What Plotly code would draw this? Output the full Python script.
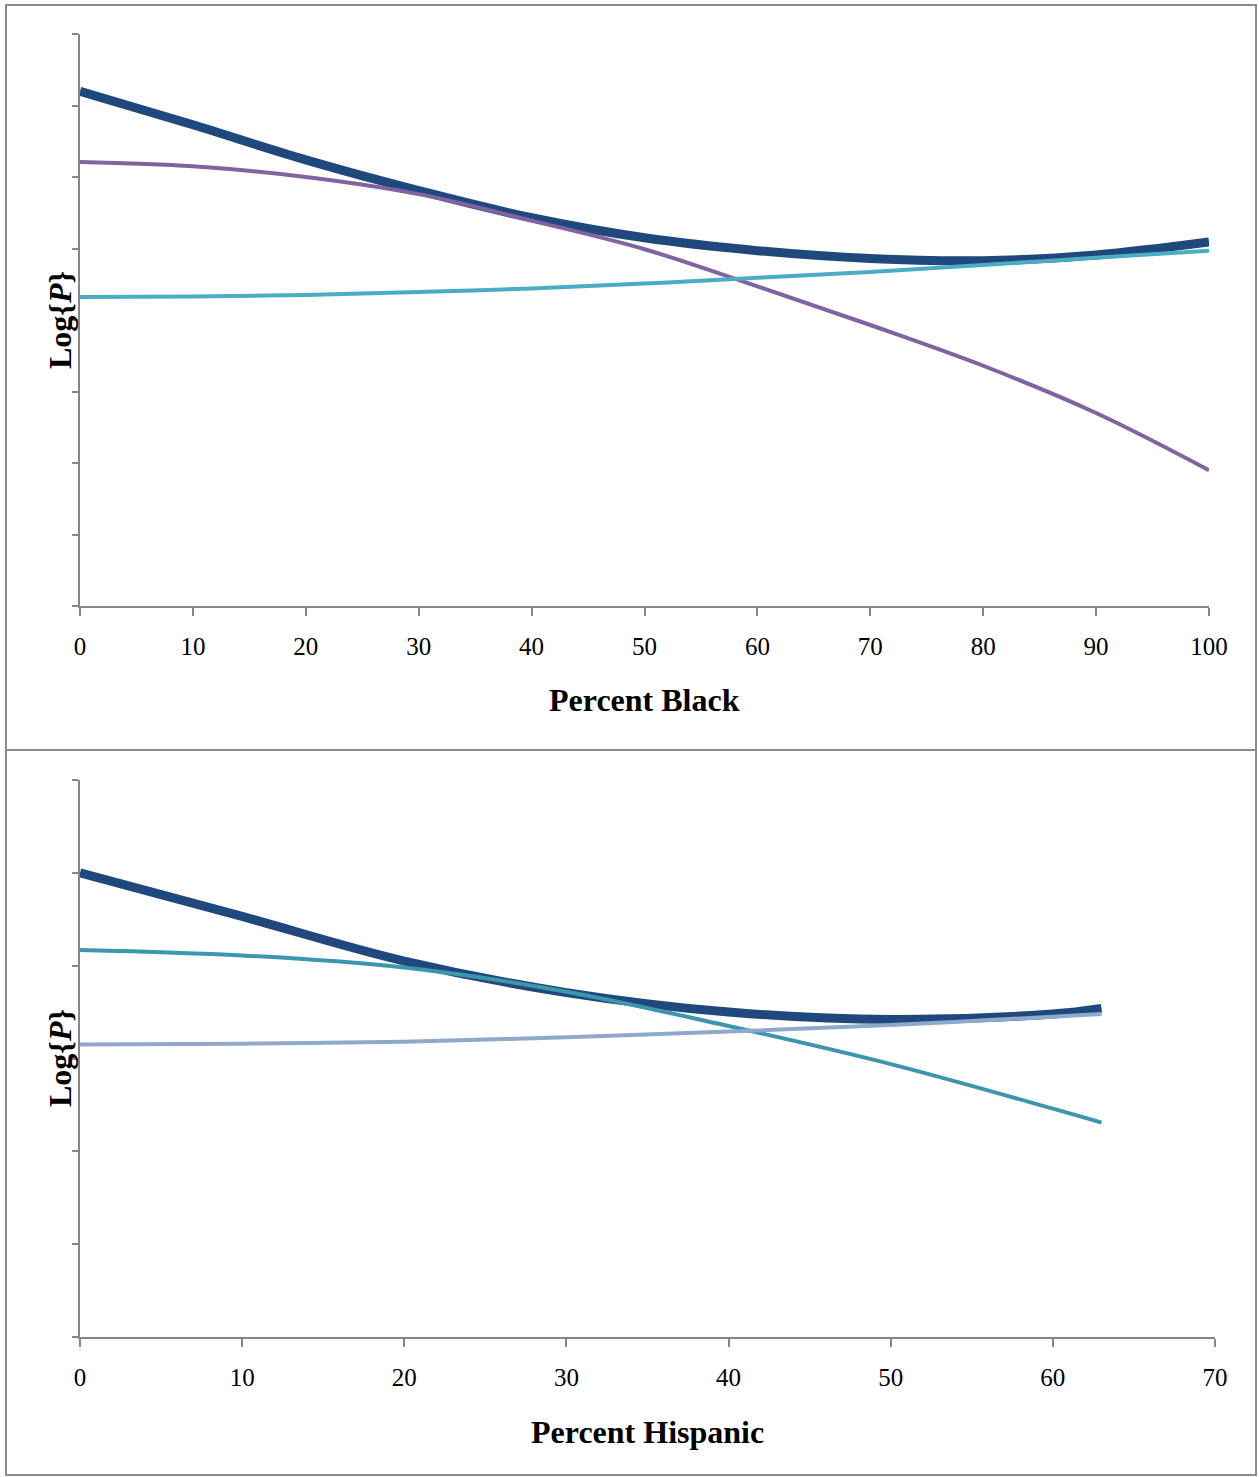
import plotly.graph_objects as go

W, H = 1259, 1477

# ---- Data ----
black_x = [0, 10, 20, 30, 40, 50, 60, 70, 80, 90, 100]
black_total = [7.20, 6.73, 6.24, 5.81, 5.43, 5.15, 4.97, 4.86, 4.83, 4.91, 5.09]
black_purple = [6.21, 6.15, 6.00, 5.76, 5.39, 4.99, 4.47, 3.93, 3.36, 2.70, 1.90]
black_cyan = [4.32, 4.33, 4.35, 4.39, 4.44, 4.51, 4.59, 4.67, 4.77, 4.87, 4.97]
black_ticks = [0, 10, 20, 30, 40, 50, 60, 70, 80, 90, 100]

hisp_x = [0, 10, 20, 30, 40, 50, 60, 63]
hisp_total = [5.00, 4.53, 4.05, 3.71, 3.50, 3.42, 3.48, 3.54]
hisp_teal = [4.17, 4.11, 3.98, 3.72, 3.35, 2.94, 2.46, 2.31]
hisp_light = [3.15, 3.16, 3.18, 3.23, 3.29, 3.36, 3.45, 3.48]
hisp_ticks = [0, 10, 20, 30, 40, 50, 60, 70]

NAVY = "#1F497D"
PURPLE = "#8064A2"
CYAN = "#4BACC6"
TEAL = "#3C97AE"
LIGHT = "#8FA8CE"
AX = "#868686"
FONT = "Liberation Serif"


def px_x(p):
    return p / W


def px_y(p):
    return 1 - p / H


fig = go.Figure()


def add_line(x, y, color, width, xa, ya):
    fig.add_trace(go.Scatter(
        x=x, y=y, mode="lines", xaxis=xa, yaxis=ya,
        line=dict(color=color, width=width, shape="spline", smoothing=1.0),
        showlegend=False, hoverinfo="skip"))


add_line(black_x, black_total, NAVY, 9, "x", "y")
add_line(black_x, black_purple, PURPLE, 4, "x", "y")
add_line(black_x, black_cyan, CYAN, 4, "x", "y")

add_line(hisp_x, hisp_total, NAVY, 9, "x2", "y2")
add_line(hisp_x, hisp_teal, TEAL, 4, "x2", "y2")
add_line(hisp_x, hisp_light, LIGHT, 4, "x2", "y2")

xcommon = dict(showline=True, linecolor=AX, linewidth=2, ticks="outside",
               ticklen=8, tickwidth=2, tickcolor=AX, showgrid=False,
               zeroline=False, automargin=False, ticklabelstandoff=9,
               tickfont=dict(family=FONT, size=25, color="black"))
ycommon = dict(showline=True, linecolor=AX, linewidth=2, ticks="outside",
               ticklen=6, tickwidth=2, tickcolor=AX, showgrid=False,
               zeroline=False, showticklabels=False, dtick=1, automargin=False)

fig.update_layout(
    width=W, height=H, autosize=False,
    margin=dict(l=0, r=0, t=0, b=0, pad=0, autoexpand=False),
    paper_bgcolor="white", plot_bgcolor="white",
    xaxis=dict(xcommon, domain=[px_x(80), px_x(1209)], range=[0, 100],
               tickvals=black_ticks, anchor="y"),
    yaxis=dict(ycommon, domain=[px_y(606), px_y(34)], range=[0, 8], anchor="x"),
    xaxis2=dict(xcommon, domain=[px_x(80), px_x(1215)], range=[0, 70],
                tickvals=hisp_ticks, anchor="y2"),
    yaxis2=dict(ycommon, domain=[px_y(1337), px_y(780)], range=[0, 6], anchor="x2"),
)

# panel borders
for (y0, y1) in [(5, 750), (750, 1475)]:
    fig.add_shape(type="rect", xref="paper", yref="paper",
                  x0=px_x(6), x1=px_x(1256), y0=px_y(y1), y1=px_y(y0),
                  line=dict(color="#8C8C8C", width=2), layer="below")

title_font = dict(family=FONT, size=32, color="black")
# axis titles
fig.add_annotation(text="<b>Percent Black</b>", xref="paper", yref="paper",
                   x=px_x(644), y=px_y(700), showarrow=False, font=title_font,
                   xanchor="center", yanchor="middle")
fig.add_annotation(text="<b>Percent Hispanic</b>", xref="paper", yref="paper",
                   x=px_x(647), y=px_y(1432), showarrow=False, font=title_font,
                   xanchor="center", yanchor="middle")
for yc in [320, 1058]:
    fig.add_annotation(text="<b>Log{<i>P</i>}</b>", xref="paper", yref="paper",
                       x=px_x(60), y=px_y(yc), showarrow=False, font=title_font,
                       textangle=-90, xanchor="center", yanchor="middle")

fig.write_html(
    "out.html",
    config={"responsive": False, "displayModeBar": False},
    post_script="document.body.style.margin='0';document.body.style.overflow='hidden';",
)
